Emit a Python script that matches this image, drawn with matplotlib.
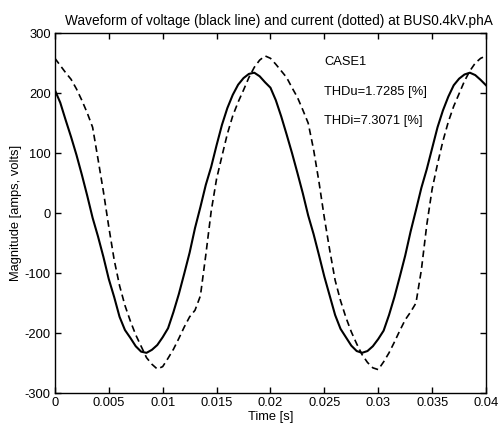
#!/bin/env python3
import numpy as np
import matplotlib
matplotlib.use('Agg')
import matplotlib.pyplot as plt

plt.rcParams['font.family'] = ['Liberation Sans', 'DejaVu Sans']
plt.rcParams['axes.unicode_minus'] = False

# time axis, 0.5 ms step, 0 .. 0.04 s
time_s = np.arange(81) * 0.0005

# voltage (solid)
voltage = [205, 184, 155, 127, 97, 64, 29, -8, -39, -73,
           -110, -140, -173, -195, -208, -222, -231, -233, -228, -220,
           -207, -192, -165, -135, -101, -66, -25, 10, 47, 77,
           113, 147, 175, 197, 214, 225, 232, 234, 228, 218,
           209, 188, 161, 131, 100, 67, 33, -4, -35, -70,
           -106, -138, -170, -193, -207, -221, -230, -233, -230, -222,
           -210, -196, -170, -140, -106, -71, -31, 5, 42, 73,
           108, 143, 171, 194, 213, 224, 231, 234, 230, 222, 213]

# current (dashed)
current = [258, 246, 234, 223, 207, 188, 167, 143, 90, 36,
           -23, -78, -121, -154, -180, -203, -222, -241, -252, -260,
           -256, -242, -227, -209, -190, -173, -162, -138, -70, 3,
           57, 95, 132, 162, 185, 205, 226, 243, 255, 262,
           258, 248, 237, 226, 209, 193, 172, 150, 106, 52,
           -8, -62, -112, -146, -174, -198, -218, -236, -249, -258,
           -261, -248, -233, -215, -196, -178, -165, -150, -95, -20,
           40, 82, 120, 152, 178, 199, 220, 237, 250, 258, 262]

x_ticks = [0, 0.005, 0.01, 0.015, 0.02, 0.025, 0.03, 0.035, 0.04]
x_tick_labels = ['0', '0.005', '0.01', '0.015', '0.02', '0.025', '0.03', '0.035', '0.04']
y_ticks = [-300, -200, -100, 0, 100, 200, 300]

notes = ['CASE1', 'THDu=1.7285 [%]', 'THDi=7.3071 [%]']
note_y = [252, 201, 153]

fontsize = 9.3

fig = plt.figure(figsize=(4.99, 4.30), dpi=100)
ax = fig.add_axes([0.110, 0.086, 0.864, 0.837])

ax.plot(time_s, voltage, color='black', linewidth=1.5, linestyle='-')
ax.plot(time_s, current, color='black', linewidth=1.2, linestyle=(0, (4, 2.5)))

for txt, yv in zip(notes, note_y):
    ax.text(0.0250, yv, txt, fontsize=fontsize, ha='left', va='center')

ax.set_xlim(0, 0.04)
ax.set_ylim(-300, 300)
ax.set_xticks(x_ticks, labels=x_tick_labels, fontsize=fontsize)
ax.set_yticks(y_ticks, labels=[str(v) for v in y_ticks], fontsize=fontsize)
ax.tick_params(direction='in', top=True, right=True, length=4, width=1, pad=3)
for sp in ax.spines.values():
    sp.set_linewidth(1.0)

ax.set_xlabel('Time [s]', fontsize=fontsize, labelpad=1)
ax.set_ylabel('Magnitude [amps, volts]', fontsize=fontsize, labelpad=2)
ax.set_title('Waveform of voltage (black line) and current (dotted) at BUS0.4kV.phA',
             fontsize=9.8, pad=6, x=0.52)

plt.savefig('out.png', dpi=100)
